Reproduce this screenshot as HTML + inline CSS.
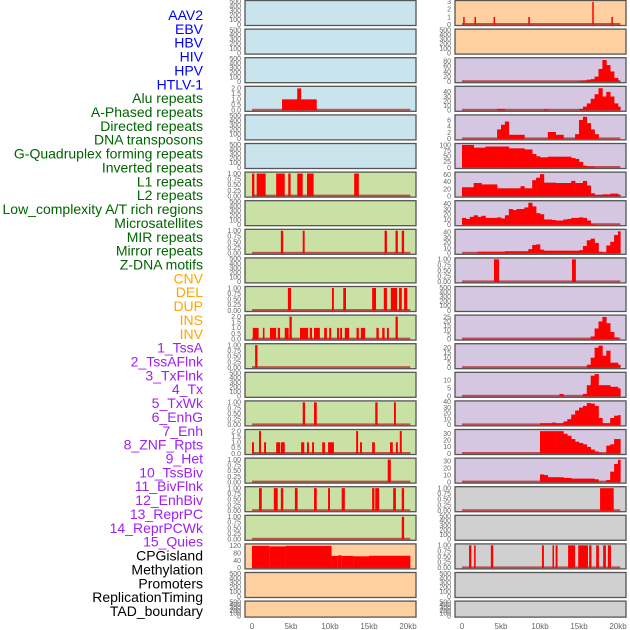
<!DOCTYPE html>
<html><head><meta charset="utf-8">
<style>
html,body{margin:0;padding:0;background:#fff;}
body{width:630px;height:630px;overflow:hidden;font-family:"Liberation Sans",sans-serif;}
svg{display:block;}
</style></head>
<body>
<svg id="chart" width="630" height="630" viewBox="0 0 630 630" xmlns="http://www.w3.org/2000/svg">
<g id="labels"></g>
<g id="panels"></g>
<g id="xaxes"></g>
</svg>
<script>
// ---- track labels ----
const labelNames = ["AAV2","EBV","HBV","HIV","HPV","HTLV-1","Alu repeats","A-Phased repeats","Directed repeats","DNA transposons","G-Quadruplex forming repeats","Inverted repeats","L1 repeats","L2 repeats","Low_complexity A/T rich regions","Microsatellites","MIR repeats","Mirror repeats","Z-DNA motifs","CNV","DEL","DUP","INS","INV","1_TssA","2_TssAFlnk","3_TxFlnk","4_Tx","5_TxWk","6_EnhG","7_Enh","8_ZNF_Rpts","9_Het","10_TssBiv","11_BivFlnk","12_EnhBiv","13_ReprPC","14_ReprPCWk","15_Quies","CPGisland","Methylation","Promoters","ReplicationTiming","TAD_boundary"];
const labelGroups = ["v","v","v","v","v","v","r","r","r","r","r","r","r","r","r","r","r","r","r","s","s","s","s","s","c","c","c","c","c","c","c","c","c","c","c","c","c","c","c","o","o","o","o","o"];
// ---- x axis ----
const xTickKb = [0,5,10,15,20];
const xTickLabels = ["0","5kb","10kb","15kb","20kb"];
// ---- binary interval data (kb) ----
const alu = [[3.85,8.3,1],[5.8,6.3,2]];
const L7 = [[0,0.3],[0.6,1.75],[3.1,4.2],[4.65,4.95],[5.8,6.5],[7.05,7.9],[13.1,13.7]];
const L9 = [[3.7,4.0],[6.5,6.75],[17.0,17.3],[18.4,18.7],[19.2,19.5]];
const L11 = [[4.6,5.0],[10.25,10.5],[11.7,12.05],[15.4,15.9],[16.9,17.3],[17.8,18.6],[18.85,19.2],[19.5,19.9]];
const L12 = [[0.1,0.85,1],[1.4,1.6,1],[2.3,3.1,1],[3.3,3.6,1],[4.2,4.7,1],[4.8,5.1,2],[6.15,7.2,1],[7.4,7.7,1],[7.95,8.7,1],[9.25,9.6,1],[9.9,10.15,1],[10.9,11.15,1],[11.3,11.55,1],[11.9,12.45,1],[13.4,13.7,1],[13.95,14.5,1],[15.95,16.25,1],[16.7,17.0,1],[17.3,17.55,1],[18.4,18.7,2]];
const L13 = [[0.4,0.7]];
const L15 = [[6.5,6.8],[7.95,8.3],[15.8,16.1],[18.2,18.45]];
const L16 = [[0,0.25,1],[0.9,1.15,2],[1.55,1.8,1],[3.1,3.6,1],[3.7,4.2,1],[6.3,6.7,1],[7.05,7.3,1],[7.7,7.95,1],[9.0,9.35,1],[9.75,10.5,1],[13.35,13.6,2],[13.85,14.1,1],[15.4,15.75,1],[17.7,18.05,1],[18.45,18.7,1],[18.95,19.2,2]];
const L17 = [[17.4,17.8]];
const L18 = [[0.9,1.25],[2.8,3.3],[3.7,4.0],[5.5,5.85],[7.95,8.3],[9.75,10.0],[11.5,11.9],[15.4,15.7],[15.8,16.3],[18.1,18.45],[19.2,19.5]];
const L19 = [[19.2,19.5]];
const aav2 = [[0.15,0.3,1],[1.6,1.75,1],[4.05,4.2,1],[8.5,8.7,1],[16.7,16.85,3],[19.15,19.3,1]];
const R10 = [[4.1,4.75],[14.1,14.6]];
const R18 = [[17.7,19.45]];
const R20 = [[0.9,1.2],[1.55,1.75],[3.7,4.0],[10.25,10.5],[11.6,11.8],[12.0,12.25],[13.6,14.5],[14.9,16.15],[16.3,16.6],[17.2,17.55],[18.1,18.45],[18.7,19.1]];
const methylation = [[0,2.2,120],[2.2,4.3,117],[4.3,10.2,120],[10.2,11.0,65],[11.0,11.5,68],[11.5,13.0,65],[13.0,15.0,63],[15.0,20.3,66]];
// ---- histogram data (0.5kb bins, 41 bins) ----
const hiv = [0,0,0,0,0,0,0,0,0,0,0,0,0,0,0,0,0,0,0,0,0,0,0,0,0,0,0,0,0,0,3,5,8,10,20,50,85,65,40,15,3];
const hpv = [0,0,0,0,0,0,0,0,0,3,3,0,0,0,0,0,0,0,0,0,0,2,0,0,0,0,0,0,0,0,3,8,15,25,35,48,30,40,30,15,8];
const r5 = [0,0,0,0,0,0,0,0,0,3,4.5,5.5,1.3,1.3,1.3,1.3,0,0,0,0,0,0,2.2,2.2,1.3,1.3,0,0,0,1.5,6,7,5,3,1.5,0,0,0,0,0,0];
const r6 = [100,100,100,88,88,88,93,93,93,93,93,93,85,85,85,85,80,80,60,50,45,45,48,48,48,48,48,48,42,38,25,8,4,4,0,0,0,0,0,0,0];
const r7 = [25,25,25,37,37,33,33,33,33,22,22,22,22,22,22,28,22,22,45,52,62,38,38,38,37,37,37,37,43,37,37,43,30,8,3,3,5,5,7,7,4];
const r8 = [13,11,15,18,15,17,13,13,13,14,12,18,30,28,30,30,33,42,35,22,20,10,10,9,8,8,10,11,13,13,14,13,8,1,0,0,0,0,0,0,0];
const r9 = [0,0,0,0,3,3,3,3,3,3,3,4,4,4,4,4,4,8,16,17,7,5,5,5,5,5,5,5,5,5,6,14,25,28,20,3,1,15,22,35,42];
const r12 = [0,0,0,0,0,0,0,0,0,0,0,0,0,0,0,0,0,0,0,0,0,0,0,0,0,0,0,0,0,0,0,0,0,3,12,20,25,18,8,2,0];
const r13 = [0,0,0,0,0,0,0,0,0,0,0,0,0,0,0,0,0,0,0,0,0,0,0,0,0,0,0,0,0,0,0,0,3,10,20,22,12,17,5,5,3];
const r14 = [0,0,0,0,0,0,0,0,0,0,0,0,0,0,0,0,0,0,0,0,0,0,0,0,0,1.5,0,0,0,0,0,1.5,7,13,14,7,7,7,6,6,5];
const r15 = [0,0,0,0,0,0,0,0,0,0,0,0,0,0,0,0,0,0,0,0,3,3,3,4,3,3,6,10,18,25,30,33,38,37,33,12,3,3,12,16,17];
const r16 = [0,0,0,0,0,0,0,0,0,0,0,0,0,0,0,0,0,0,0,0,34,34,34,34,34,34,30,27,22,18,16,14,10,6,3,1,0,12,14,22,22];
const r17 = [0,0,0,0,0,0,0,0,0,0,0,0,0,0,0,0,0,0,0,0,11,10,7,7,7,7,6,6,5,5,5,5,5,5,4,0,0,3,15,26,32];
// ---- tick label sets ----
const ticksEmpty = [0,100,200,300,400,500];
const ticksBin = [0,0.25,0.5,0.75,1];
const ticks2 = [0,0.5,1,1.5,2];

const BG = {b:"#c9e4ec", g:"#c9e1a5", o:"#ffd09f", p:"#d5c6e2", y:"#d0d0d0"};
const LBLCOL = {v:"#0000ff", r:"#006400", s:"#ffa500", c:"#a020f0", o:"#000000"};

const panels = [
 ["aav2-left-empty",0,0,"b","empty"],["ebv-empty",0,1,"b","empty"],["hbv-empty",0,2,"b","empty"],
 ["alu-track",0,3,"b","iv",alu,2.1,ticks2,1],["a-phased-empty",0,4,"b","empty"],["directed-empty",0,5,"b","empty"],
 ["l7-binary",0,6,"g","iv",L7,1.02,ticksBin,2],["l8-empty",0,7,"g","empty"],["l9-binary",0,8,"g","iv",L9,1.02,ticksBin,2],
 ["l10-empty",0,9,"g","empty"],["l11-binary",0,10,"g","iv",L11,1.02,ticksBin,2],["l12-counts",0,11,"g","iv",L12,2.05,ticks2,1],
 ["l13-binary",0,12,"g","iv",L13,1.02,ticksBin,2],["l14-empty",0,13,"g","empty"],["l15-binary",0,14,"g","iv",L15,1.02,ticksBin,2],
 ["l16-counts",0,15,"g","iv",L16,2.05,ticks2,1],["l17-binary",0,16,"g","iv",L17,1.02,ticksBin,2],["l18-binary",0,17,"g","iv",L18,1.02,ticksBin,2],
 ["l19-binary",0,18,"g","iv",L19,1.02,ticksBin,2],["methylation-track",0,19,"o","iv",methylation,125,[0,40,80,120],0],
 ["l21-empty",0,20,"o","empty"],["l22-empty",0,21,"o","empty"],
 ["aav2-track",1,0,"o","iv",aav2,3.05,[0,1,2,3],0],["r2-empty",1,1,"o","empty"],
 ["hiv-track",1,2,"p","h",hiv,90,[0,20,40,60,80],0],["hpv-track",1,3,"p","h",hpv,50,[0,10,20,30,40],0],
 ["r5-track",1,4,"p","h",r5,7.3,[0,2,4,6],0],["r6-track",1,5,"p","h",r6,102,[0,25,50,75,100],0],
 ["r7-track",1,6,"p","h",r7,65,[0,20,40,60],0],["r8-track",1,7,"p","h",r8,44,[0,10,20,30,40],0],
 ["r9-track",1,8,"p","h",r9,44,[0,10,20,30,40],0],["r10-binary",1,9,"p","iv",R10,1.02,ticksBin,2],
 ["r11-empty",1,10,"p","empty"],["r12-track",1,11,"p","h",r12,26,[0,5,10,15,20,25],0],
 ["r13-track",1,12,"p","h",r13,23,[0,5,10,15,20],0],["r14-track",1,13,"p","h",r14,14.5,[0,5,10],0],
 ["r15-track",1,14,"p","h",r15,40,[0,10,20,30,40],0],["r16-track",1,15,"p","h",r16,35,[0,10,20,30],0],
 ["r17-track",1,16,"p","h",r17,33,[0,10,20,30],0],["r18-binary",1,17,"y","iv",R18,1.02,ticksBin,2],
 ["r19-empty",1,18,"y","empty"],["cpg-binary",1,19,"y","iv",R20,1.02,ticksBin,2],
 ["r21-empty",1,20,"y","empty"],["r22-empty",1,21,"y","empty"]
];

const NS = "http://www.w3.org/2000/svg";
function mk(tag, attrs, parent){const e=document.createElementNS(NS,tag);for(const k in attrs)e.setAttribute(k,attrs[k]);parent.appendChild(e);return e;}
const COLX = [245, 455];
const PW = 171;
const X0 = [252, 462];
const KBPX = 7.8;
function xScale(col, kb){ return X0[col] + kb*KBPX; }
function rowTop(r){ return 0.5 + r*28.6; }
function rowH(r){ return r===21 ? 16 : 25; }

const gl = document.getElementById("labels");
labelNames.forEach((name,i)=>{
  const t = mk("text",{x:203,y:15+i*13.86+5,"text-anchor":"end","font-size":"14",fill:LBLCOL[labelGroups[i]]},gl);
  
  
  t.textContent = name;
});

const gp = document.getElementById("panels");
panels.forEach(p=>{
  const [name,col,row,bg,kind,data,ymax,ticks,dec] = p;
  const top=rowTop(row), h=rowH(row), left=COLX[col];
  const g = mk("g",{},gp);
  
  
  const rect = mk("rect",{x:left,y:top,width:PW,height:h,fill:BG[bg]},g);
  
  
  const bottom = top+h-1, plotH = h-2;
  const yS = v => bottom - (v/ (kind==="empty"?500:ymax))*plotH;
  const tks = kind==="empty" ? ticksEmpty : ticks;
  const dd = kind==="empty" ? 0 : dec;
  tks.forEach(v=>{
    const t = mk("text",{x:left-4,y:yS(v)+2.3,"text-anchor":"end","font-size":"7",fill:"#666"},g);
    
    
    t.textContent = v.toFixed(dd);
  });
  if(kind!=="empty"){
    const bl = mk("rect",{x:xScale(col,0),y:bottom-1.5,width:20.3*KBPX,height:2,fill:"#b22",opacity:"0.75"},g);
    
    
  }
  if(kind==="iv"){
    data.forEach(d=>{
      const v = d.length>2 ? d[2] : 1;
      const x1 = xScale(col,d[0]), x2 = xScale(col,d[1]);
      const r = mk("rect",{x:x1,y:yS(v),width:Math.max(1.5,x2-x1),height:bottom-yS(v),fill:"#ff0000"},g);
      
      
    });
  } else if(kind==="h"){
    data.forEach((v,i)=>{
      if(v<=0) return;
      const x1 = xScale(col,i*0.5), w = (i===40?0.3:0.5)*KBPX;
      const r = mk("rect",{x:x1,y:yS(v),width:w+0.3,height:bottom-yS(v),fill:"#ff0000"},g);
      
      
    });
  }
  const br = mk("rect",{x:left,y:top,width:PW,height:h,fill:"none",stroke:"#555","stroke-width":"1.3"},g);
  
  
});

const gx = document.getElementById("xaxes");
[0,1].forEach(col=>{
  xTickKb.forEach((kb,i)=>{
    const t = mk("text",{x:xScale(col,kb),y:629,"text-anchor":"middle","font-size":"8",fill:"#666"},gx);
    
    
    t.textContent = xTickLabels[i];
  });
});
</script>
</body></html>
